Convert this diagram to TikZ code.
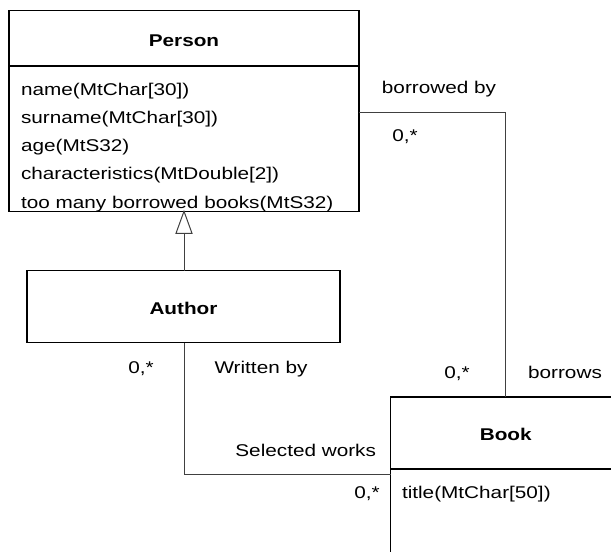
\documentclass[tikz,border=0pt]{standalone}
\usepackage{fontspec}
\setmainfont{Liberation Sans}[FakeStretch=1.22]
\begin{document}
\begin{tikzpicture}[x=1pt,y=-1pt,
  every node/.style={inner sep=0pt,outer sep=0pt},
  txt/.style={font=\fontsize{17}{28.25}\selectfont},
  ttl/.style={font=\fontsize{17}{28.25}\selectfont\bfseries},
  cls/.style={draw=black,line width=1.2pt},
  conn/.style={draw=black!75,line width=1pt}]
\useasboundingbox (0,0) rectangle (611,552);
\clip (0,0) rectangle (611,552);
% Person
\node[cls,minimum width=350,minimum height=201] (person) at (184,110.8) {};
\draw[cls] (9,66) -- (359,66);
\node[ttl,anchor=base] (ptitle) at (184,46) {Person};
\node[txt,anchor=base west,align=left] (pattr) at (21,208) {name(MtChar[30])\\surname(MtChar[30])\\age(MtS32)\\characteristics(MtDouble[2])\\too many borrowed books(MtS32)};
% Author
\node[cls,minimum width=313,minimum height=72] (author) at (183.5,306.8) {};
\node[ttl,anchor=base] (atitle) at (183.5,314) {Author};
% Book
\node[cls,anchor=north west,minimum width=260,minimum height=200] (book) at (390.7,397) {};
\draw[cls] (390.7,469) -- (640,469);
\node[ttl,anchor=base] (btitle) at (505.7,440) {Book};
\node[txt,anchor=base west] (battr) at (402,498) {title(MtChar[50])};
% generalization
\coordinate (tri) at (184,233.3);
\draw[conn] (author.north -| tri) -- (tri);
\draw[conn,fill=white] (person.south -| tri) -- (176,233.3) -- (192,233.3) -- cycle;
% borrowed association
\coordinate (pb) at (359,112);
\coordinate (bk) at (505,397);
\draw[conn] (pb) -| (bk);
% written association
\coordinate (bl) at (390.7,474.5);
\draw[conn] (author.south -| tri) |- (bl);
% labels
\node[txt,anchor=base] (l1) at (439,93) {borrowed by};
\node[txt,anchor=base] (l2) at (405,141.5) {0,*};
\node[txt,anchor=base] (l3) at (457,378.3) {0,*};
\node[txt,anchor=base] (l4) at (565,378.3) {borrows};
\node[txt,anchor=base] (l5) at (141,373.3) {0,*};
\node[txt,anchor=base] (l6) at (261,373.3) {Written by};
\node[txt,anchor=base] (l7) at (305.7,456.7) {Selected works};
\node[txt,anchor=base] (l8) at (367,498.3) {0,*};
\end{tikzpicture}
\end{document}
